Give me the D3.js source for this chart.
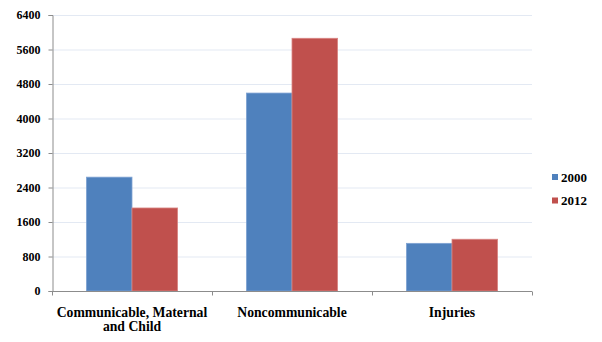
<!DOCTYPE html>
<html>
<head>
<meta charset="utf-8">
<script src="https://cdn.jsdelivr.net/npm/d3@7/dist/d3.min.js"></script>
<style>
  html, body { margin: 0; padding: 0; background: #fff; }
  svg { display: block; }
  .lbl { font-family: "Liberation Serif", "DejaVu Serif", serif; font-weight: 700; }
</style>
</head>
<body>
<svg id="chart" width="602" height="342"></svg>
<script>
// Deaths by cause group (thousands), 2000 vs 2012
const categories = [["Communicable, Maternal", "and Child"], ["Noncommunicable"], ["Injuries"]];
const seriesNames = ["2000", "2012"];
const values2000 = [2640, 4590, 1105];
const values2012 = [1925, 5860, 1200];
const yTicks = [0, 800, 1600, 2400, 3200, 4000, 4800, 5600, 6400];
const colors = ["#4F81BD", "#C0504D"];

const svg = d3.select("#chart");
const plotLeft = 52, plotRight = 532, plotTop = 15, plotBottom = 291;

const keys = categories.map((c, i) => i);
const x = d3.scaleBand().domain(keys).range([plotLeft, plotRight]).paddingInner(0.43).paddingOuter(0.215);
const xs = d3.scaleBand().domain(seriesNames).range([0, x.bandwidth()]);
const y = d3.scaleLinear().domain([0, 6400]).range([plotBottom, plotTop]);

// Horizontal gridlines
svg.append("g").selectAll("line").data(yTicks.filter(t => t > 0)).join("line")
  .attr("x1", plotLeft).attr("x2", plotRight)
  .attr("y1", d => y(d) + 0.5).attr("y2", d => y(d) + 0.5)
  .attr("stroke", "#e3e9f3").attr("stroke-width", 1.2);

// Bars
const series = [values2000, values2012];
series.forEach((vals, si) => {
  svg.append("g").selectAll("rect").data(vals).join("rect")
    .attr("x", (d, i) => x(i) + xs(seriesNames[si]))
    .attr("y", d => y(d))
    .attr("width", xs.bandwidth())
    .attr("height", d => y(0) - y(d))
    .attr("fill", colors[si])
    .attr("stroke", si === 0 ? "#7fa3d3" : "#d98583")
    .attr("stroke-width", 0.8);
});

// Y axis
const yAxis = d3.axisLeft(y).tickValues(yTicks).tickSize(4).tickPadding(8).tickFormat(d3.format("d"));
const gy = svg.append("g").attr("transform", `translate(${plotLeft + 0.5},0)`).call(yAxis);
gy.attr("font-family", null).attr("font-size", null);
gy.selectAll("path, line").attr("stroke", "#8c8c8c");
gy.selectAll("text").attr("class", "lbl").style("font-size", "12px").attr("fill", "#000");

// X axis with tick marks at category boundaries
const gx = svg.append("g").attr("transform", `translate(0,${plotBottom + 0.5})`);
gx.append("line").attr("x1", plotLeft).attr("x2", plotRight).attr("stroke", "#8c8c8c");
const step = x.step();
gx.selectAll("line.tk").data(d3.range(categories.length + 1)).join("line")
  .attr("class", "tk")
  .attr("x1", i => plotLeft + i * step + 0.5).attr("x2", i => plotLeft + i * step + 0.5)
  .attr("y1", 0).attr("y2", 4).attr("stroke", "#8c8c8c");

// Category labels
categories.forEach((lines, i) => {
  const cx = x(i) + x.bandwidth() / 2;
  const t = svg.append("text")
    .attr("class", "lbl")
    .attr("x", cx).attr("y", 317)
    .attr("text-anchor", "middle")
    .style("font-size", "13.7px");
  lines.forEach((ln, j) => {
    t.append("tspan").attr("x", cx).attr("dy", j === 0 ? 0 : 14).text(ln);
  });
});

// Legend
const legend = svg.append("g");
seriesNames.forEach((name, i) => {
  const ly = 177 + i * 23.5;
  legend.append("rect").attr("x", 552).attr("y", ly - 3).attr("width", 6).attr("height", 6).attr("fill", colors[i]);
  legend.append("text").attr("class", "lbl").attr("x", 561).attr("y", ly + 4.5).style("font-size", "13px").text(name);
});
</script>
</body>
</html>
